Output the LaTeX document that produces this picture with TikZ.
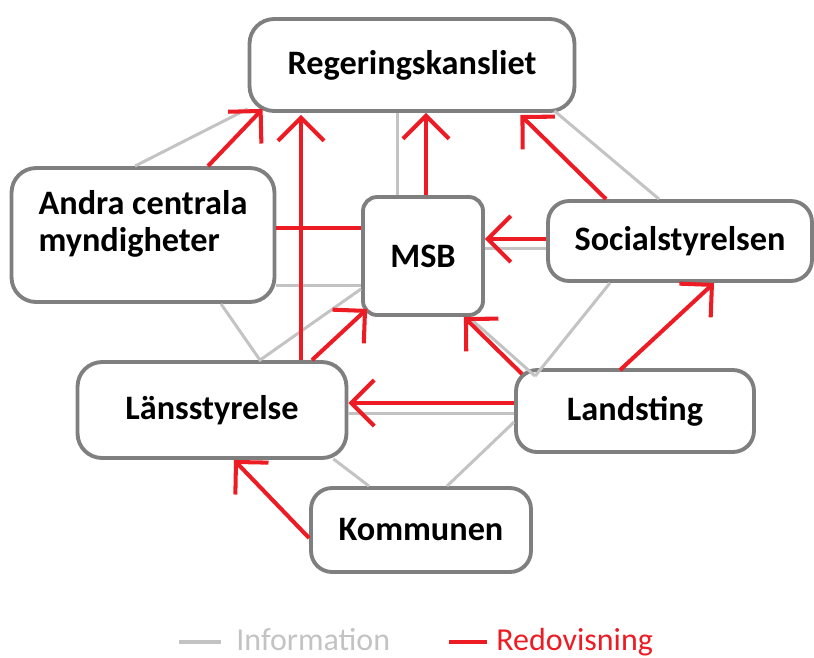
\documentclass[tikz,border=0pt]{standalone}
\usepackage{fontspec}
\setmainfont{Carlito}
\usepackage{tikz}
\usetikzlibrary{arrows.meta,positioning,calc}
\definecolor{boxgray}{RGB}{127,127,127}
\definecolor{infogray}{RGB}{195,195,195}
\definecolor{redov}{RGB}{237,28,36}
\tikzstyle{box}=[draw=boxgray,line width=2.2pt,fill=white,rounded corners=12pt,inner sep=0pt,font=\bfseries\fontsize{19.5}{21.5}\selectfont]
\tikzstyle{info}=[draw=infogray,line width=1.7pt]
\tikzstyle{report}=[draw=redov,line width=2.3pt]
\tikzstyle{reportarrow}=[report,-{Straight Barb[length=0.46cm,width=0.92cm]}]
\tikzstyle{legend}=[font=\fontsize{18.2}{21}\selectfont,inner sep=0pt,anchor=base west]

\begin{document}
\begin{tikzpicture}[x=0.02cm,y=-0.02cm]
\useasboundingbox (0,0) rectangle (814,657);

% organisationer
\node [box,minimum width=6.5cm,minimum height=1.84cm,rounded corners=14pt] (reg) at (412,65) {Regeringskansliet};
\node [box,minimum width=5.26cm,minimum height=2.68cm,align=left,text depth=16pt,rounded corners=14pt] (andra) at (143,235) {Andra centrala\\myndigheter};
\node [box,minimum width=2.4cm,minimum height=2.36cm,rounded corners=8pt] (msb) at (423,256) {MSB};
\node [box,minimum width=5.28cm,minimum height=1.6cm] (soc) at (680,241) {Socialstyrelsen};
\node [box,minimum width=5.38cm,minimum height=1.92cm,rounded corners=14pt] (lan) at (212,410) {Länsstyrelse};
\node [box,minimum width=4.76cm,minimum height=1.64cm] (land) at (635,411) {Landsting};
\node [box,minimum width=4.4cm,minimum height=1.68cm] (kom) at (421,530) {Kommunen};

% information
\draw [info] ($(andra.north)+(-8,0)$) -- ($(reg.south west)+(0,-4)$);
\draw [info] ($(msb.north)+(-26,0)$) -- ($(reg.south)+(-15,0)$);
\draw [info] ($(soc.north)+(-21,0)$) -- ($(reg.south east)+(-22,-2)$);
\draw [info] ($(soc.west)+(0,7)$) -- ($(msb.east)+(0,-8)$);
\draw [info] ($(andra.east)+(0,50)$) -- ($(msb.west)+(0,29)$);
\draw [info] ($(andra.south)+(78,0)$) -- ($(lan.north)+(48,0)$)
  -- ($(msb.south west)+(0,-28)$);
\draw [info] ($(land.north west)+(21,8)$) -- ($(msb.south east)+(-13,3)$);
\draw [info] ($(land.north west)+(21,8)$) -- ($(soc.south)+(-70,0)$);
\draw [info] ($(land.west)+(0,2)$) -- ($(lan.east)+(0,3)$);
\draw [info] ($(land.west)+(0,11)$) -- ($(kom.north)+(26,0)$);
\draw [info] ($(lan.south east)+(-15,-1)$) -- ($(kom.north)+(-52,0)$);

% redovisning
\draw [reportarrow] ($(andra.north)+(65,0)$) -- ($(reg.south west)+(15,-4)$);
\draw [reportarrow] ($(lan.north)+(89,0)$) -- ($(reg.south)+(-111,2)$);
\draw [reportarrow] ($(msb.north)+(3,0)$) -- ($(reg.south)+(14,0)$);
\draw [reportarrow] ($(soc.north)+(-74,0)$) -- ($(reg.south east)+(-56,2)$);
\draw [reportarrow] ($(soc.west)+(0,-2)$) -- ($(msb.east)+(0,-17)$);
\draw [report] ($(andra.east)+(0,-7)$) -- ($(msb.west)+(0,-28)$);
\draw [reportarrow] ($(lan.north)+(100,0)$) -- ($(msb.south west)+(6,-8)$);
\draw [reportarrow] ($(land.north west)+(8,6)$) -- ($(msb.south east)+(-21,0)$);
\draw [reportarrow] ($(land.north)+(-15,2)$) -- ($(soc.south)+(34,0)$);
\draw [reportarrow] ($(land.west)+(0,-8)$) -- ($(lan.east)+(0,-7)$);
\draw [reportarrow] ($(kom.west)+(0,8)$) -- ($(lan.south)+(22,0)$);

% teckenförklaring
\node [legend,text=infogray] (leginfo) at (236,650) {Information};
\node [legend,text=redov] (legredov) at (496,650) {Redovisning};
\coordinate (ginfo) at (179,642);
\coordinate (gredov) at (449,642);
\draw [info,line width=2.3pt] (ginfo) -- ++(42,0);
\draw [report] (gredov) -- ++(38,0);
\end{tikzpicture}
\end{document}
